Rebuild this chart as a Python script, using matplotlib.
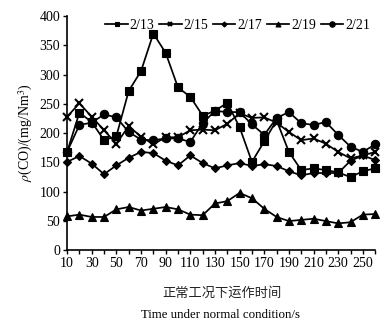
import matplotlib.pyplot as plt
from matplotlib.ticker import MultipleLocator

plt.rcParams['font.family'] = ['Liberation Serif', 'DejaVu Serif']
plt.rcParams['mathtext.fontset'] = 'stix'

# time axis (s) and CO concentration for each date
t = list(range(10, 261, 10))
co_0213 = [168, 235, 219, 188, 195, 272, 306, 370, 337, 278, 262, 230, 238, 252, 210,
           151, 186, 222, 168, 137, 140, 137, 133, 125, 135, 140]
co_0215 = [228, 251, 228, 205, 182, 212, 194, 181, 193, 193, 205, 206, 205, 216, 234,
           226, 227, 218, 202, 188, 191, 182, 168, 157, 162, 168]
co_0217 = [151, 161, 148, 130, 145, 158, 168, 166, 153, 145, 162, 149, 140, 145, 149,
           144, 147, 144, 135, 128, 132, 132, 132, 153, 162, 154]
co_0219 = [58, 61, 57, 57, 70, 74, 68, 71, 74, 70, 61, 60, 80, 84, 98,
           89, 71, 57, 50, 52, 54, 50, 46, 48, 61, 62]
co_0221 = [168, 214, 218, 232, 227, 202, 189, 188, 191, 191, 185, 217, 238, 236, 236,
           215, 197, 226, 236, 217, 214, 219, 197, 177, 168, 181]

labels = ['2/13', '2/15', '2/17', '2/19', '2/21']
series = [co_0213, co_0215, co_0217, co_0219, co_0221]
markers = ['s', 'x', 'D', '^', 'o']
msizes = [5.5, 5.5, 4, 5.5, 6]

fig = plt.figure(figsize=(3.9, 3.26), dpi=100)
ax = fig.add_axes([0.172, 0.232, 0.79, 0.719])

for y, lab, m, ms in zip(series, labels, markers, msizes):
    ax.plot(t, y, color='black', lw=1.25, marker=m, markersize=ms,
            markeredgewidth=1.5 if m == 'x' else 0.8, label=lab, clip_on=False)

ax.set_xlim(10, 260)
ax.set_ylim(0, 400)
ax.set_xticks(range(10, 251, 20))
ax.xaxis.set_minor_locator(MultipleLocator(10))
ax.yaxis.set_major_locator(MultipleLocator(50))
ax.tick_params(axis='both', which='both', direction='out', labelsize=10, width=1)
ax.tick_params(axis='x', which='both', length=3, pad=2)
ax.tick_params(axis='y', length=3, pad=2)
for s in ['top', 'right']:
    ax.spines[s].set_visible(False)
for s in ['left', 'bottom']:
    ax.spines[s].set_linewidth(1.2)

ax.set_ylabel(r'$\rho$(CO)/(mg/Nm$^3$)', fontsize=10, labelpad=3)

leg = ax.legend(ncol=5, frameon=False, loc='center', bbox_to_anchor=(0.61, 0.922),
                bbox_transform=fig.transFigure, fontsize=10, handlelength=1.6,
                handletextpad=0.15, columnspacing=0.35, markerscale=0.65)

fig.text(0.57, 1 - 293 / 326, '正常工况下运作时间', ha='center', va='center',
         fontsize=9.5, family=['Noto Sans CJK SC', 'DejaVu Sans'], color='#222222')
fig.text(0.565, 1 - 315 / 326, 'Time under normal condition/s', ha='center',
         va='center', fontsize=9.3)

fig.savefig('out.png', dpi=100)
